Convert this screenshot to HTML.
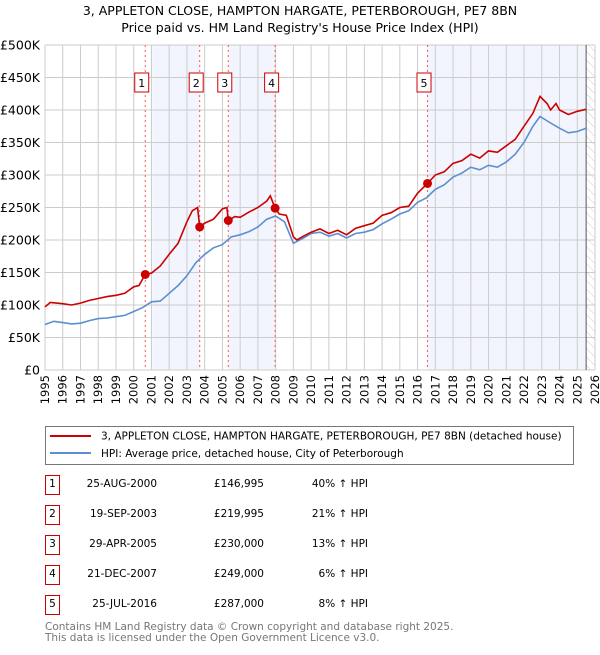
<!DOCTYPE html>
<html><head><meta charset="utf-8"><style>
body{margin:0;background:#fff;font-family:"Liberation Sans","DejaVu Sans",sans-serif;}
svg text{font-family:"DejaVu Sans","Liberation Sans",sans-serif;}
</style></head><body>
<svg id="c" width="600" height="650" xmlns="http://www.w3.org/2000/svg">
<defs><pattern id="hatch" width="6" height="6" patternUnits="userSpaceOnUse" patternTransform="rotate(-45)"><line x1="0" y1="0" x2="0" y2="6" stroke="#ccc" stroke-width="1"/></pattern></defs>
<text x="300" y="15" text-anchor="middle" font-size="12.5">3, APPLETON CLOSE, HAMPTON HARGATE, PETERBOROUGH, PE7 8BN</text>
<text x="300" y="32" text-anchor="middle" font-size="12.5">Price paid vs. HM Land Registry's House Price Index (HPI)</text>
<g id="plot"></g>
<rect x="45.5" y="426.5" width="528" height="38" fill="#fff" stroke="#777"/>
<line x1="50" y1="436" x2="91" y2="436" stroke="#cc0000" stroke-width="2"/>
<text x="101" y="439.5" font-size="10.5">3, APPLETON CLOSE, HAMPTON HARGATE, PETERBOROUGH, PE7 8BN (detached house)</text>
<line x1="50" y1="453" x2="91" y2="453" stroke="#5b8fd0" stroke-width="2"/>
<text x="101" y="457" font-size="10.5">HPI: Average price, detached house, City of Peterborough</text>
<g id="table" font-size="10.5"></g>
<text x="45" y="630" font-size="10.5" fill="#777">Contains HM Land Registry data © Crown copyright and database right 2025.</text>
<text x="45" y="641" font-size="10.5" fill="#777">This data is licensed under the Open Government Licence v3.0.</text>
</svg>
<script>
const yTicks=[0,50,100,150,200,250,300,350,400,450,500];
const yTickLabels=["£0","£50K","£100K","£150K","£200K","£250K","£300K","£350K","£400K","£450K","£500K"];
const years=[1995,1996,1997,1998,1999,2000,2001,2002,2003,2004,2005,2006,2007,2008,2009,2010,2011,2012,2013,2014,2015,2016,2017,2018,2019,2020,2021,2022,2023,2024,2025,2026];
const hpiT=[1995,1995.5,1996,1996.5,1997,1997.5,1998,1998.5,1999,1999.5,2000,2000.5,2001,2001.5,2002,2002.5,2003,2003.5,2004,2004.5,2005,2005.5,2006,2006.5,2007,2007.5,2008,2008.5,2009,2009.5,2010,2010.5,2011,2011.5,2012,2012.5,2013,2013.5,2014,2014.5,2015,2015.5,2016,2016.5,2017,2017.5,2018,2018.5,2019,2019.5,2020,2020.5,2021,2021.5,2022,2022.5,2022.9,2023.5,2024,2024.5,2025,2025.5];
const hpiV=[70,75,73,71,72,76,79,80,82,84,90,96,105,106,118,130,145,165,178,188,193,205,208,213,220,232,237,228,195,202,210,212,206,210,203,210,212,216,225,232,240,245,258,265,278,285,297,303,312,308,315,312,320,332,350,375,390,380,372,365,367,372];
const propT=[1995,1995.3,1996,1996.5,1997,1997.5,1998,1998.5,1999,1999.5,2000,2000.3,2000.65,2001,2001.5,2002,2002.5,2003,2003.3,2003.6,2003.72,2004,2004.5,2005,2005.25,2005.33,2005.7,2006,2006.5,2007,2007.5,2007.7,2007.97,2008.2,2008.6,2009,2009.2,2009.5,2010,2010.5,2011,2011.5,2012,2012.5,2013,2013.5,2014,2014.5,2015,2015.5,2016,2016.56,2017,2017.5,2018,2018.5,2019,2019.5,2020,2020.5,2021,2021.5,2022,2022.5,2022.9,2023.3,2023.5,2023.8,2024,2024.5,2025,2025.5];
const propV=[97,104,102,100,103,107,110,113,115,118,128,130,147,149,160,178,195,228,245,250,220,226,232,248,250,230,236,235,243,250,260,268,249,240,238,205,200,205,212,217,210,215,208,218,222,226,238,242,250,252,272,287,300,305,318,322,332,326,337,335,345,355,375,395,421,410,400,410,400,393,398,401];
const saleLabels=["1","2","3","4","5"];
const saleT=[2000.65,2003.72,2005.33,2007.97,2016.56];
const saleV=[146.995,219.995,230,249,287];
const saleDates=["25-AUG-2000","19-SEP-2003","29-APR-2005","21-DEC-2007","25-JUL-2016"];
const salePrices=["£146,995","£219,995","£230,000","£249,000","£287,000"];
const salePct=["40% ↑ HPI","21% ↑ HPI","13% ↑ HPI","6% ↑ HPI","8% ↑ HPI"];
const bandStart=[2001.05,2005.33,2016.56];
const bandEnd=[2003.72,2007.97,2025.5];
const dataEnd=2025.5;

const X0=45,X1=595,Y0=370,Y1=45;
const x=t=>X0+(t-1995)/(2026-1995)*(X1-X0);
const y=v=>Y0-v/500*(Y0-Y1);
const NS="http://www.w3.org/2000/svg";
const plot=document.getElementById('plot');
function mk(tag,attrs,parent){const e=document.createElementNS(NS,tag);for(const k in attrs)e.setAttribute(k,attrs[k]);(parent||plot).appendChild(e);return e;}
bandStart.forEach((s,i)=>{const r=mk('rect',{x:x(s),y:Y1,width:x(bandEnd[i])-x(s),height:Y0-Y1,fill:'#f2f5fd'});

});
const hr=mk('rect',{x:x(dataEnd),y:Y1,width:X1-x(dataEnd),height:Y0-Y1,fill:'url(#hatch)'});


years.forEach(yr=>{const l=mk('line',{x1:x(yr),x2:x(yr),y1:Y1,y2:Y0,stroke:'#ccc'});


const t=mk('text',{x:0,y:0,'font-size':11.5,'text-anchor':'end',transform:`translate(${x(yr)+4},${Y0+5}) rotate(-90)`});t.textContent=yr;

});
yTicks.forEach((v,i)=>{const l=mk('line',{x1:X0,x2:X1,y1:y(v),y2:y(v),stroke:'#ccc'});


const t=mk('text',{x:40,y:y(v)+4.5,'font-size':12.5,'text-anchor':'end'});t.textContent=yTickLabels[i];

});
const el=mk('line',{x1:x(dataEnd),x2:x(dataEnd),y1:Y1,y2:Y0,stroke:'#555'});


saleT.forEach(t=>{const l=mk('line',{x1:x(t),x2:x(t),y1:Y1,y2:Y0,stroke:'#f55','stroke-dasharray':'2,3'});

});
const hp=mk('path',{d:hpiT.map((t,i)=>(i?'L':'M')+x(t).toFixed(1)+','+y(hpiV[i]).toFixed(1)).join(''),fill:'none',stroke:'#5b8fd0','stroke-width':1.6});


const pp=mk('path',{d:propT.map((t,i)=>(i?'L':'M')+x(t).toFixed(1)+','+y(propV[i]).toFixed(1)).join(''),fill:'none',stroke:'#cc0000','stroke-width':1.6});


saleT.forEach((t,i)=>{const c=mk('circle',{cx:x(t),cy:y(saleV[i]),r:4.5,fill:'#cc0000'});


const r=mk('rect',{x:x(t)-10.5,y:73,width:14,height:19,fill:'#fff',stroke:'#cc0000'});


const tx=mk('text',{x:x(t)-3.5,y:87,'font-size':11,'text-anchor':'middle'});tx.textContent=saleLabels[i];

});
const tb=document.getElementById('table');
saleLabels.forEach((s,i)=>{const yy=483+i*30;
const r=mk('rect',{x:45.5,y:yy-7.5,width:14,height:19,fill:'#fff',stroke:'#cc0000'},tb);


const a=mk('text',{x:52.5,y:yy+4,'text-anchor':'middle'},tb);a.textContent=s;


const d=mk('text',{x:157,y:yy+4,'text-anchor':'end'},tb);d.textContent=saleDates[i];


const p=mk('text',{x:264,y:yy+4,'text-anchor':'end'},tb);p.textContent=salePrices[i];


const q=mk('text',{x:368,y:yy+4,'text-anchor':'end'},tb);q.textContent=salePct[i];

});
</script>
</body></html>
